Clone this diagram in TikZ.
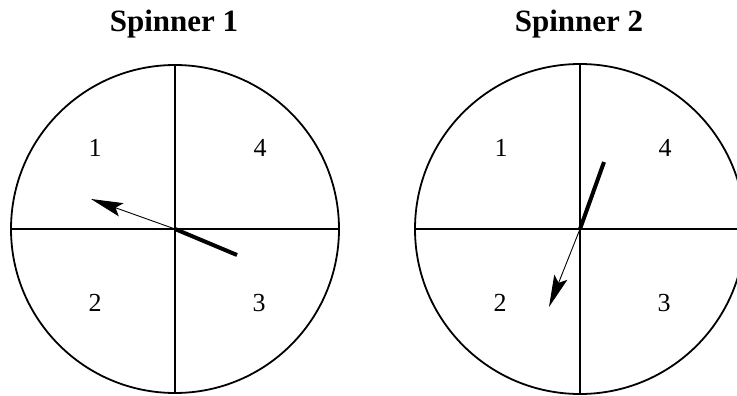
\documentclass[tikz,border=0pt]{standalone}
\usepackage{fontspec}
\setmainfont{Liberation Serif}
\usetikzlibrary{arrows.meta}
\begin{document}
\begin{tikzpicture}[x=1pt,y=-1pt,
  rim/.style={line width=1.8pt},
  divider/.style={line width=2pt},
  title/.style={font=\fontsize{31}{31}\selectfont\bfseries, inner sep=0pt},
  num/.style={font=\fontsize{26}{26}\selectfont, inner sep=0pt},
  pointer/.style={line width=0.9pt, -{Stealth[length=32pt,width=14pt,inset=6pt]}},
  tailpart/.style={line width=4pt}]
\useasboundingbox (0,0) rectangle (737,396);
\clip (0,0) rectangle (737,396);
% Spinner 1
\coordinate (c1) at (175,229);
\node[title] (t1) at (174,24) {Spinner 1};
\draw[rim] (c1) circle (164pt);
\coordinate (n1) at (175,65);
\coordinate (s1) at (175,393);
\coordinate (w1) at (11,229);
\coordinate (e1) at (339,229);
\draw[divider] (n1) -- (s1);
\draw[divider] (w1) -- (e1);
\node[num] (a1) at (95,148) {1};
\node[num] (a4) at (260,148) {4};
\node[num] (a2) at (95,303) {2};
\node[num] (a3) at (259,303) {3};
\coordinate (p1tip) at (91,199);
\coordinate (p1end) at (237,255);
\draw[tailpart] (c1) -- (p1end);
\draw[pointer] (c1) -- (p1tip);
% Spinner 2
\coordinate (c2) at (580,229);
\node[title] (t2) at (579,24) {Spinner 2};
\draw[rim] (c2) circle (165pt);
\coordinate (n2) at (580,64);
\coordinate (s2) at (580,394);
\coordinate (w2) at (415,229);
\coordinate (e2) at (745,229);
\draw[divider] (n2) -- (s2);
\draw[divider] (w2) -- (e2);
\node[num] (b1) at (501,148) {1};
\node[num] (b4) at (665,148) {4};
\node[num] (b2) at (500,303) {2};
\node[num] (b3) at (664,303) {3};
\coordinate (p2tip) at (549,307);
\coordinate (p2end) at (604,162);
\draw[tailpart] (c2) -- (p2end);
\draw[pointer] (c2) -- (p2tip);
\end{tikzpicture}
\end{document}
